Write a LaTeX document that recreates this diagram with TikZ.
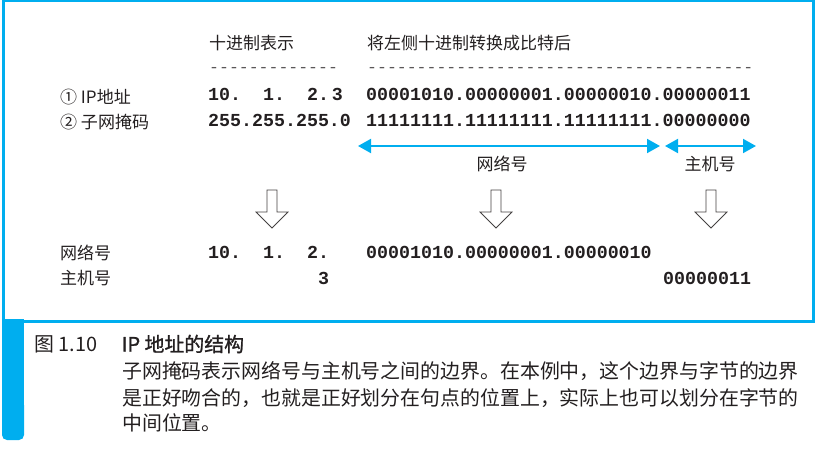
\documentclass[tikz,border=0pt]{standalone}
\usepackage{fontspec}
\setmainfont{Noto Sans CJK SC}
\setmonofont{Liberation Mono}
\newfontfamily\titlefont{Noto Sans CJK SC}[FakeBold=1.2]
\usetikzlibrary{arrows.meta}
\definecolor{frameblue}{HTML}{00AEEF}
\definecolor{ink}{HTML}{231F20}

\begin{document}
\begin{tikzpicture}[x=1pt,y=-1pt,
  every node/.style={inner sep=0pt,anchor=base west,text=ink},
  head/.style={font=\fontsize{17}{20}\selectfont},
  code/.style={font=\ttfamily\bfseries\fontsize{18.3}{20}\selectfont},
  dashrule/.style={font=\ttfamily\fontsize{16.5}{20}\selectfont,text=ink!75},
  caption/.style={font=\fontsize{19.9}{24}\selectfont},
  span/.style={draw=frameblue,line width=2pt,{Triangle[length=13pt,width=14pt]}-{Triangle[length=13pt,width=14pt]}},
  downarrow/.style={draw=ink!85,line width=0.8pt,fill=white}]

\useasboundingbox (0,0) rectangle (839,474);

\draw[frameblue,line width=3pt] (3.5,0) rectangle (813.5,321);
\fill[frameblue] (2,319) rectangle (24,430);
\fill[frameblue,rounded corners=5pt] (2,400) rectangle (24,440);

\node[head] (dec)  at (209,49.5) {十进制表示};
\node[head] (bin)  at (367,49.5) {将左侧十进制转换成比特后};
\node[dashrule] (decrule) at (209,72.3) {-------------};
\node[dashrule] (binrule) at (367,72.3) {---------------------------------------};

\node[head] (iplbl)   at (60,103) {① IP地址};
\node[head] (masklbl) at (60,128) {② 子网掩码};
\node[head] (netlbl)  at (60,259) {网络号};
\node[head] (hostlbl) at (60,284.5) {主机号};

\node[code] (ipdec)   at (208,100) {10.\ \ 1.\ \ 2.\kern3pt3};
\node[code] (ipbin)   at (366,100) {00001010.00000001.00000010.00000011};
\node[code] (maskdec) at (208,126) {255.255.255.0};
\node[code] (maskbin) at (366,126) {11111111.11111111.11111111.00000000};
\node[code] (netdec)  at (208,258) {10.\ \ 1.\ \ 2.};
\node[code] (netbin)  at (366,258) {00001010.00000001.00000010};
\node[code] (hostdec) at (318,284) {3};
\node[code] (hostbin) at (663,284) {00000011};

\coordinate (netL)  at (358,146);
\coordinate (netR)  at (660,146);
\coordinate (hostL) at (665,146);
\coordinate (hostR) at (756,146);
\draw[span] (netL) -- (netR);
\draw[span] (hostL) -- (hostR);
\node[head,anchor=base] (netspan)  at (502,170.5) {网络号};
\node[head,anchor=base] (hostspan) at (710,170.5) {主机号};

\foreach \x in {272,496,711}
  \draw[downarrow] (\x-5,190) -- (\x+5,190) -- (\x+5,212) -- (\x+16,212)
    -- (\x,228) -- (\x-16,212) -- (\x-5,212) -- cycle;

\node[caption] (fignum)   at (34,351.6) {图 1.10};
\node[caption,font=\titlefont\fontsize{19.9}{24}\selectfont] (figtitle) at (121.5,351.6) {IP 地址的结构};
\node[caption] (capline1) at (122,378) {子网掩码表示网络号与主机号之间的边界。在本例中，这个边界与字节的边界};
\node[caption] (capline2) at (122,405) {是正好吻合的，也就是正好划分在句点的位置上，实际上也可以划分在字节的};
\node[caption] (capline3) at (122,430) {中间位置。};

\end{tikzpicture}
\end{document}
